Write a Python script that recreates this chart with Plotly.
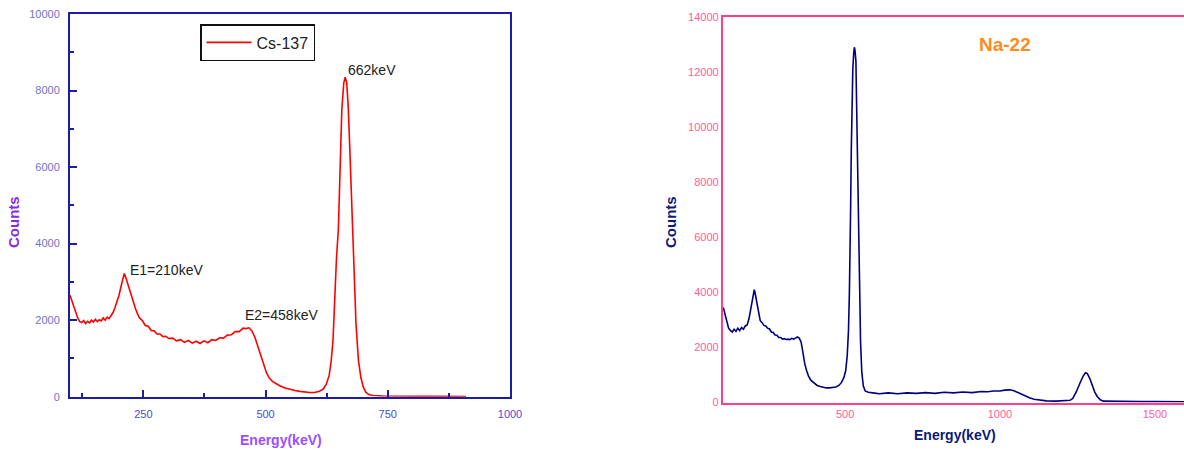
import plotly.graph_objects as go

# ---- Cs-137 spectrum (left panel) ----
cs_energy = [100, 104, 108, 112, 116, 120, 124, 128, 132, 136, 140, 144, 148, 152, 156, 160, 164, 168, 172, 176,
             180, 184, 188, 192, 196, 200, 204, 208, 211, 214, 218, 222, 226, 230, 234, 238, 242, 248, 254, 260,
             266, 272, 278, 284, 290, 296, 302, 310, 318, 326, 334, 342, 350, 358, 366, 374, 382, 390, 398, 406,
             414, 422, 430, 438, 446, 454, 460, 466, 472, 478, 484, 490, 496, 502, 508, 514, 522, 530, 540, 550,
             560, 570, 580, 590, 600, 610, 618, 624, 630, 634, 638, 641, 645, 649, 653, 656, 660, 663, 666, 669,
             672, 675, 678, 681, 685, 690, 695, 700, 705, 712, 720, 740, 760, 800, 850, 910]
cs_counts = [2650, 2480, 2330, 2200, 2050, 1960, 1940, 1990, 1910, 1970, 1930, 2000, 1950, 2020, 1960, 2010, 1980, 2060, 2000, 2080,
             2040, 2110, 2200, 2330, 2470, 2640, 2860, 3080, 3220, 3120, 2950, 2760, 2590, 2450, 2300, 2170, 2060, 1990, 1860, 1840,
             1730, 1720, 1640, 1640, 1570, 1580, 1520, 1530, 1460, 1490, 1420, 1470, 1400, 1450, 1390, 1460, 1410, 1490, 1470, 1540,
             1530, 1610, 1620, 1700, 1700, 1790, 1780, 1800, 1720, 1560, 1330, 1080, 830, 620, 480, 400, 340, 280, 230, 190,
             160, 140, 120, 110, 110, 140, 200, 320, 550, 900, 1480, 2600, 3600, 4400, 6200, 7500, 8200, 8350, 8200, 7600,
             6600, 5500, 4300, 3300, 1900, 950, 500, 250, 120, 50, 30, 20, 15, 10, 8, 5]

# ---- Na-22 spectrum (right panel) ----
na_energy = [107, 112, 118, 124, 130, 136, 142, 148, 154, 160, 166, 172, 178, 184, 190, 196, 200, 204, 207, 210,
             214, 218, 222, 226, 232, 238, 244, 250, 256, 262, 268, 274, 280, 286, 292, 298, 304, 310, 316, 322,
             328, 334, 340, 346, 352, 358, 362, 366, 370, 376, 382, 390, 400, 410, 420, 430, 440, 450, 460, 470,
             480, 488, 496, 502, 507, 511, 514, 516, 518, 520, 522, 525, 528, 530, 532, 535, 537, 539, 541, 543,
             545, 547, 550, 554, 559, 565, 575, 590, 610, 640, 670, 700, 730, 760, 790, 820, 850, 880, 910, 940,
             960, 980, 1000, 1015, 1032, 1045, 1055, 1065, 1080, 1095, 1110, 1130, 1150, 1180, 1210, 1226, 1235, 1247, 1258, 1268,
             1276, 1282, 1290, 1298, 1306, 1314, 1324, 1334, 1360, 1400, 1450, 1500, 1550, 1594]
na_counts = [3450, 3200, 2900, 2700, 2620, 2560, 2660, 2580, 2700, 2610, 2720, 2660, 2780, 2820, 3050, 3400, 3750, 4000, 4100, 3950,
             3700, 3450, 3150, 2980, 2900, 2800, 2780, 2700, 2670, 2560, 2540, 2450, 2440, 2360, 2360, 2300, 2320, 2290, 2300, 2280,
             2330, 2300, 2340, 2380, 2340, 2200, 1950, 1650, 1400, 1150, 960, 800, 700, 620, 580, 550, 530, 530, 540, 560,
             620, 720, 900, 1150, 1700, 2600, 4000, 5100, 7100, 9100, 10900, 12100, 12700, 12900, 12800, 12400, 11000, 9400, 8200, 7300,
             5500, 3800, 2200, 1100, 600, 420, 370, 350, 320, 350, 320, 350, 330, 360, 330, 370, 350, 380, 360, 400,
             390, 420, 420, 450, 460, 430, 380, 330, 240, 170, 120, 80, 60, 50, 60, 80, 150, 400, 700, 950,
             1080, 1050, 870, 620, 380, 220, 100, 50, 40, 35, 30, 30, 25, 25]

cs_xticks = [250, 500, 750, 1000]
cs_xminor = [125, 375, 625, 875]
cs_yticks = [0, 2000, 4000, 6000, 8000, 10000]
cs_yminor = [1000, 3000, 5000, 7000, 9000]
na_xticks = [500, 1000, 1500]
na_yticks = [0, 2000, 4000, 6000, 8000, 10000, 12000, 14000]

W, H = 1184, 453
FONT = "Liberation Sans"
BLUE = "#1c1ca8"
PINK = "#ff3d8b"

fig = go.Figure()
fig.add_trace(go.Scatter(x=cs_energy, y=cs_counts, mode="lines", name="Cs-137",
                         line=dict(color="#ff0000", width=1.6), xaxis="x", yaxis="y"))
fig.add_trace(go.Scatter(x=na_energy, y=na_counts, mode="lines", name="Na-22", showlegend=False,
                         line=dict(color="#000080", width=1.6), xaxis="x2", yaxis="y2"))

fig.update_layout(
    width=W, height=H, autosize=False,
    margin=dict(l=0, r=0, t=0, b=0, pad=0, autoexpand=False),
    paper_bgcolor="white", plot_bgcolor="white",
    font=dict(family=FONT),
    xaxis=dict(domain=[70 / W, 510 / W], range=[100, 1000], anchor="y", automargin=False,
               showline=True, linecolor=BLUE, linewidth=2, mirror=True,
               ticks="inside", ticklen=7, tickwidth=2, tickcolor=BLUE,
               tickmode="array", tickvals=cs_xticks, tickformat="d",
               minor=dict(tickvals=cs_xminor, ticks="inside", ticklen=4, tickwidth=2, tickcolor=BLUE),
               tickfont=dict(size=11, color="#4b4bdc"), ticklabelstandoff=6,
               showgrid=False, zeroline=False),
    yaxis=dict(domain=[(H - 396.7) / H, (H - 14) / H], range=[0, 10000], anchor="x", automargin=False,
               showline=True, linecolor=BLUE, linewidth=2, mirror=True,
               ticks="inside", ticklen=7, tickwidth=2, tickcolor=BLUE,
               tickmode="array", tickvals=cs_yticks, tickformat="d",
               minor=dict(tickvals=cs_yminor, ticks="inside", ticklen=4, tickwidth=2, tickcolor=BLUE),
               tickfont=dict(size=11, color="#7272c4"), ticklabelstandoff=6,
               showgrid=False, zeroline=False),
    xaxis2=dict(domain=[723 / W, 1.0], range=[106, 1594], anchor="y2", automargin=False,
                showline=True, linecolor=PINK, linewidth=2.2, mirror=True,
                ticks="", tickmode="array", tickvals=na_xticks, tickformat="d",
                tickfont=dict(size=11, color="#ff5c9a"),
                showgrid=False, zeroline=False),
    yaxis2=dict(domain=[(H - 402.5) / H, (H - 17) / H], range=[0, 14000], anchor="x2", automargin=False,
                showline=True, linecolor=PINK, linewidth=2.2, mirror=False,
                ticks="", tickmode="array", tickvals=na_yticks, tickformat="d",
                tickfont=dict(size=11, color="#ff5c9a"),
                showgrid=False, zeroline=False),
    showlegend=True,
    legend=dict(x=200 / W, y=1 - 24 / H, xanchor="left", yanchor="top",
                bordercolor="#111111", borderwidth=1.5, bgcolor="white", itemwidth=45,
                font=dict(size=16, color="#222222", family=FONT)),
)

ann = [
    dict(text="E1=210keV", x=218, y=3310, xref="x", yref="y", xanchor="left", yanchor="middle",
         font=dict(size=14, color="#222222")),
    dict(text="E2=458keV", x=454, y=2130, xref="x", yref="y", xanchor="left", yanchor="middle",
         font=dict(size=14, color="#222222")),
    dict(text="662keV", x=665, y=8530, xref="x", yref="y", xanchor="left", yanchor="middle",
         font=dict(size=14, color="#222222")),
    dict(text="<b>Na-22</b>", x=1005 / W, y=1 - 44 / H, xref="paper", yref="paper",
         xanchor="center", yanchor="middle", font=dict(size=19, color="#ff8c1a")),
    dict(text="<b>Counts</b>", x=13 / W, y=1 - 222 / H, xref="paper", yref="paper", textangle=-90,
         xanchor="center", yanchor="middle", font=dict(size=15, color="#8a2be2")),
    dict(text="<b>Energy(keV)</b>", x=281 / W, y=1 - 440 / H, xref="paper", yref="paper",
         xanchor="center", yanchor="middle", font=dict(size=14, color="#9b4dff")),
    dict(text="<b>Counts</b>", x=670 / W, y=1 - 222 / H, xref="paper", yref="paper", textangle=-90,
         xanchor="center", yanchor="middle", font=dict(size=15, color="#0a1a7a")),
    dict(text="<b>Energy(keV)</b>", x=955 / W, y=1 - 435 / H, xref="paper", yref="paper",
         xanchor="center", yanchor="middle", font=dict(size=14, color="#0a1a7a")),
]
for a in ann:
    a["showarrow"] = False
fig.update_layout(annotations=ann)

fig.write_html("out.html")
